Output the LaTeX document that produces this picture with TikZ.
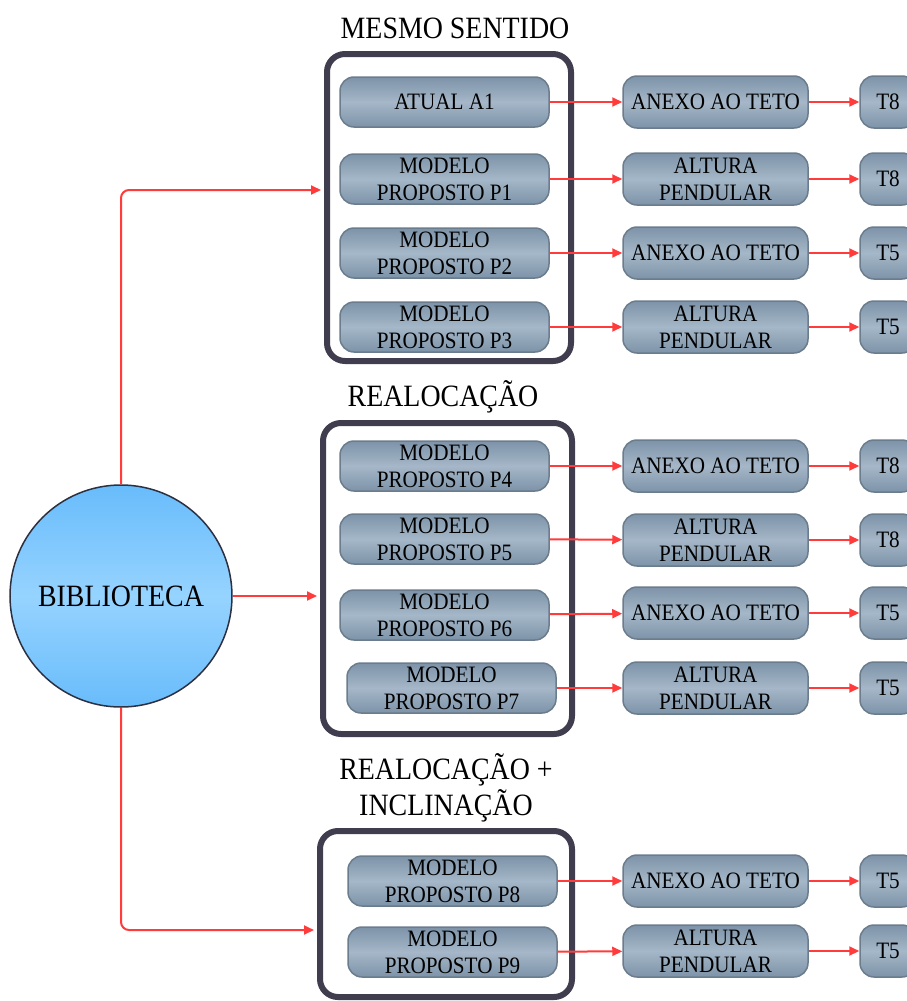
\documentclass[tikz,border=0pt]{standalone}
\usepackage{fontspec}
\setmainfont[FakeStretch=0.9]{Liberation Serif}
\usetikzlibrary{arrows.meta, positioning}

\definecolor{linkred}{HTML}{FF3B3B}
\definecolor{groupline}{HTML}{403E4E}
\definecolor{boxdark}{HTML}{7D93A8}
\definecolor{boxlight}{HTML}{A5B7C8}
\definecolor{boxedge}{HTML}{6B7C8D}
\definecolor{libdark}{HTML}{68BCFB}
\definecolor{liblight}{HTML}{96D3FF}
\definecolor{libedge}{HTML}{2D3040}

\tikzset{
  libcircle/.style={circle, draw=libedge, line width=1.5pt, top color=libdark, bottom color=libdark, middle color=liblight, minimum size=222pt, inner sep=0pt, font=\fontsize{31}{34}\selectfont},
  groupbox/.style={draw=groupline, line width=6pt, rounded corners=18pt, inner sep=0pt},
  grouptitle/.style={align=center, font=\fontsize{31}{36}\selectfont},
  roundbox/.style={draw=boxedge, line width=1.5pt, rounded corners=14pt, top color=boxdark, bottom color=boxdark, middle color=boxlight, inner sep=0pt, align=center, font=\fontsize{23.5}{27}\selectfont},
  modelbox/.style={roundbox, minimum width=209pt, minimum height=50pt},
  placebox/.style={roundbox, minimum width=185pt, minimum height=52pt},
  typebox/.style={roundbox, minimum width=56pt, minimum height=52pt},
  link/.style={draw=linkred, line width=2pt, -{Triangle[length=10pt,width=9pt]}}
}

\begin{document}
\begin{tikzpicture}[x=1pt, y=-1pt]
    \useasboundingbox (0,0) rectangle (907,1001);
    \clip (0,0) rectangle (907,1001);

    % Library circle
    \node[libcircle] (Biblioteca) at (121,596) {BIBLIOTECA};

    % The three groups and their titles
    \node[groupbox, minimum width=244pt, minimum height=307pt] (Mesmo) at (449,207.5) {};
    \node[grouptitle] (Mesmo_label) at (455,28) {MESMO SENTIDO};
    \node[groupbox, minimum width=249pt, minimum height=311pt] (Realoc) at (447.5,578.5) {};
    \node[grouptitle] (Realoc_label) at (443,397) {REALOCAÇÃO};
    \node[groupbox, minimum width=252pt, minimum height=166pt] (Inclin) at (446,914) {};
    \node[grouptitle] (Inclin_label) at (446,788) {REALOCAÇÃO +\\INCLINAÇÃO};

    % Models
    \node[modelbox] (A1) at (444.5,102) {ATUAL A1};
    \node[modelbox] (P1) at (444.5,179) {MODELO\\PROPOSTO P1};
    \node[modelbox] (P2) at (444.5,253) {MODELO\\PROPOSTO P2};
    \node[modelbox] (P3) at (444.5,327) {MODELO\\PROPOSTO P3};
    \node[modelbox] (P4) at (444.5,466) {MODELO\\PROPOSTO P4};
    \node[modelbox] (P5) at (444.5,539) {MODELO\\PROPOSTO P5};
    \node[modelbox] (P6) at (444.5,615) {MODELO\\PROPOSTO P6};
    \node[modelbox] (P7) at (451.5,688) {MODELO\\PROPOSTO P7};
    \node[modelbox] (P8) at (452.5,881) {MODELO\\PROPOSTO P8};
    \node[modelbox] (P9) at (452.5,952) {MODELO\\PROPOSTO P9};

    % Placement of the lamps
    \node[placebox] (L0) at (715.5,102) {ANEXO AO TETO};
    \node[placebox] (L1) at (715.5,179) {ALTURA\\PENDULAR};
    \node[placebox] (L2) at (715.5,253) {ANEXO AO TETO};
    \node[placebox] (L3) at (715.5,327) {ALTURA\\PENDULAR};
    \node[placebox] (L4) at (715.5,466) {ANEXO AO TETO};
    \node[placebox] (L5) at (715.5,540) {ALTURA\\PENDULAR};
    \node[placebox] (L6) at (715.5,613) {ANEXO AO TETO};
    \node[placebox] (L7) at (715.5,688) {ALTURA\\PENDULAR};
    \node[placebox] (L8) at (715.5,881) {ANEXO AO TETO};
    \node[placebox] (L9) at (715.5,951) {ALTURA\\PENDULAR};

    % Lamp types
    \node[typebox] (T0) at (888,102) {T8};
    \node[typebox] (T1) at (888,179) {T8};
    \node[typebox] (T2) at (888,253) {T5};
    \node[typebox] (T3) at (888,327) {T5};
    \node[typebox] (T4) at (888,466) {T8};
    \node[typebox] (T5) at (888,540) {T8};
    \node[typebox] (T6) at (888,613) {T5};
    \node[typebox] (T7) at (888,688) {T5};
    \node[typebox] (T8) at (888,881) {T5};
    \node[typebox] (T9) at (888,951) {T5};

    % Links from the library to the groups
    \coordinate (Mesmo_in) at (321,190);
    \coordinate (Realoc_in) at (317,596);
    \coordinate (Inclin_in) at (314,930);
    \draw[link, rounded corners=8pt] (Biblioteca.north) |- (Mesmo_in);
    \draw[link] (Biblioteca.east) -- (Realoc_in);
    \draw[link, rounded corners=8pt] (Biblioteca.south) |- (Inclin_in);

    % Links model -> placement -> type
    \draw[link] (A1) -- (L0);  \draw[link] (L0) -- (T0);
    \draw[link] (P1) -- (L1);  \draw[link] (L1) -- (T1);
    \draw[link] (P2) -- (L2);  \draw[link] (L2) -- (T2);
    \draw[link] (P3) -- (L3);  \draw[link] (L3) -- (T3);
    \draw[link] (P4) -- (L4);  \draw[link] (L4) -- (T4);
    \draw[link] (P5) -- (L5);  \draw[link] (L5) -- (T5);
    \draw[link] (P6) -- (L6);  \draw[link] (L6) -- (T6);
    \draw[link] (P7) -- (L7);  \draw[link] (L7) -- (T7);
    \draw[link] (P8) -- (L8);  \draw[link] (L8) -- (T8);
    \draw[link] (P9) -- (L9);  \draw[link] (L9) -- (T9);

  \end{tikzpicture}
\end{document}
